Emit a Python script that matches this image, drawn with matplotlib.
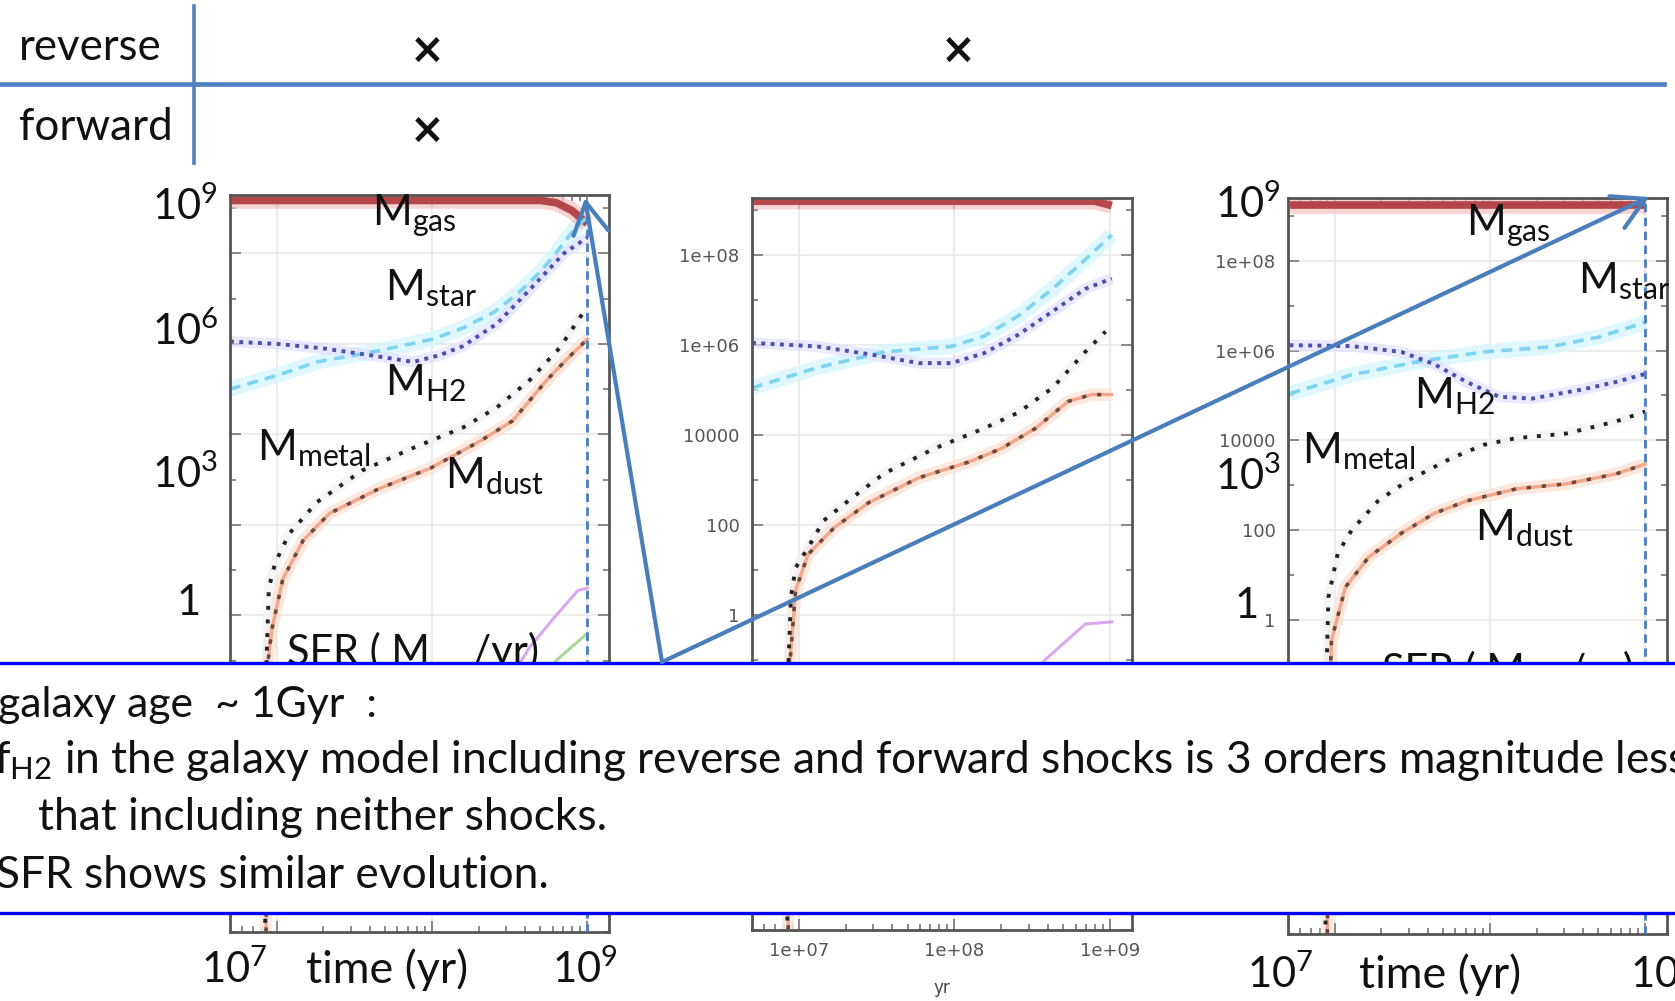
import numpy as np
import matplotlib
matplotlib.use("Agg")
import matplotlib.pyplot as plt
from matplotlib.patches import Rectangle, FancyArrowPatch
from matplotlib.lines import Line2D
from matplotlib.ticker import FixedLocator, LogLocator, FuncFormatter, NullFormatter

# ---------------- data: log10(time/yr), log10(mass/Msun) ----------------
# Panel 1 (no shocks)
p1_gas_logt = [6.70, 8.70, 8.80, 8.90, 9.00]
p1_gas_logm = [9.17, 9.17, 9.12, 8.95, 8.66]
p1_star_logt = [6.70, 7.00, 7.26, 7.66, 8.00, 8.20, 8.40, 8.55, 8.70, 8.82, 8.92, 9.00]
p1_star_logm = [5.00, 5.30, 5.60, 5.85, 6.10, 6.35, 6.70, 7.10, 7.60, 8.10, 8.55, 8.80]
p1_h2_logt = [6.70, 7.00, 7.30, 7.60, 7.88, 8.05, 8.20, 8.42, 8.63, 8.85, 9.00]
p1_h2_logm = [6.05, 6.00, 5.90, 5.75, 5.60, 5.75, 5.95, 6.45, 7.20, 8.00, 8.35]
p1_metal_logt = [6.925, 6.935, 6.95, 6.99, 7.08, 7.26, 7.55, 7.88, 8.20, 8.42, 8.63, 8.82, 8.97]
p1_metal_logm = [-8.0, -1.0, 0.60, 1.15, 1.80, 2.50, 3.20, 3.70, 4.15, 4.60, 5.20, 5.90, 6.67]
p1_dust_logt = [6.93, 6.945, 6.97, 7.04, 7.17, 7.34, 7.66, 7.99, 8.31, 8.52, 8.74, 8.88, 9.00]
p1_dust_logm = [-8.0, -1.0, -0.30, 0.80, 1.65, 2.25, 2.80, 3.25, 3.85, 4.30, 5.20, 5.70, 6.10]
p1_sfr_logt = [8.40, 8.63, 8.80, 8.94, 9.00]
p1_sfr_logm = [-2.0, -0.7, 0.0, 0.55, 0.60]
p1_sfr2_logt = [8.60, 8.80, 9.00]
p1_sfr2_logm = [-2.0, -1.0, -0.40]

# Panel 2 (reverse shock)
p2_gas_logt = [6.70, 8.90, 9.01]
p2_gas_logm = [9.20, 9.20, 9.10]
p2_star_logt = [6.70, 7.12, 7.55, 7.98, 8.19, 8.41, 8.63, 8.84, 9.01]
p2_star_logm = [5.05, 5.50, 5.85, 5.97, 6.20, 6.65, 7.25, 7.90, 8.45]
p2_h2_logt = [6.70, 7.12, 7.45, 7.77, 7.98, 8.19, 8.41, 8.63, 8.84, 9.01]
p2_h2_logm = [6.05, 5.97, 5.80, 5.60, 5.60, 5.82, 6.23, 6.75, 7.25, 7.48]
p2_metal_logt = [6.925, 6.935, 6.95, 6.98, 7.06, 7.16, 7.34, 7.55, 7.87, 8.19, 8.41, 8.63, 8.84, 8.97]
p2_metal_logm = [-8.0, -1.0, 0.40, 1.05, 1.50, 2.10, 2.60, 3.15, 3.70, 4.15, 4.50, 5.05, 5.85, 6.30]
p2_dust_logt = [6.93, 6.945, 6.98, 7.06, 7.23, 7.45, 7.77, 8.09, 8.30, 8.52, 8.73, 8.88, 9.01]
p2_dust_logm = [-8.0, -1.0, 0.55, 1.35, 1.95, 2.50, 3.05, 3.40, 3.70, 4.15, 4.75, 4.90, 4.90]
p2_sfr_logt = [8.30, 8.58, 8.84, 9.01]
p2_sfr_logm = [-2.5, -1.0, -0.2, -0.15]

# Panel 3 (reverse + forward shocks)
p3_gas_logt = [6.71, 9.00]
p3_gas_logm = [9.25, 9.25]
p3_star_logt = [6.71, 7.11, 7.53, 7.96, 8.38, 8.70, 9.00]
p3_star_logm = [5.04, 5.46, 5.75, 5.97, 6.08, 6.30, 6.63]
p3_h2_logt = [6.71, 7.11, 7.43, 7.64, 7.85, 8.06, 8.27, 8.59, 8.81, 9.00]
p3_h2_logm = [6.12, 6.10, 5.97, 5.70, 5.30, 4.97, 4.93, 5.13, 5.30, 5.48]
p3_metal_logt = [6.94, 6.95, 6.96, 7.02, 7.11, 7.28, 7.47, 7.75, 7.96, 8.17, 8.49, 8.81, 9.00]
p3_metal_logm = [-8.0, -0.9, 0.50, 1.48, 2.00, 2.65, 3.10, 3.60, 3.90, 4.05, 4.15, 4.42, 4.64]
p3_dust_logt = [6.95, 6.97, 6.98, 7.07, 7.22, 7.43, 7.64, 7.85, 8.17, 8.49, 8.81, 9.00]
p3_dust_logm = [-8.0, -1.5, -0.45, 0.73, 1.40, 1.93, 2.37, 2.65, 2.92, 3.03, 3.25, 3.47]

table_rows = ["reverse", "forward"]
text_lines = ["galaxy age  ~ 1Gyr  :",
              "f$_{H2}$ in the galaxy model including reverse and forward shocks is 3 orders magnitude less",
              "that including neither shocks.",
              "SFR shows similar evolution."]

# ---------------- figure ----------------
W, H = 1675, 1001
plt.rcParams['font.family'] = ['Lato', 'DejaVu Sans']
plt.rcParams['mathtext.default'] = 'regular'
fig = plt.figure(figsize=(W / 100, H / 100), dpi=100)
fig.patch.set_facecolor('white')
renderer = fig.canvas.get_renderer()


def fx(x):
    return x / W


def fy(y):
    return 1 - y / H


def make_axes(l, r, t, b, ytop):
    ax = fig.add_axes([fx(l), fy(b), (r - l) / W, (b - t) / H])
    ax.set_xscale('log')
    ax.set_yscale('log')
    ax.set_xlim(10 ** 6.70, 10 ** 9.14)
    ax.set_ylim(1e-7, 10 ** ytop)
    ax.yaxis.set_major_locator(FixedLocator([10.0 ** k for k in range(-6, 10, 2)]))
    ax.yaxis.set_minor_locator(FixedLocator([10.0 ** k for k in range(-7, 10, 2)]))
    ax.yaxis.set_minor_formatter(NullFormatter())
    ax.xaxis.set_major_locator(FixedLocator([1e7, 1e8, 1e9]))
    ax.xaxis.set_minor_locator(LogLocator(base=10, subs=np.arange(2, 10), numticks=100))
    ax.xaxis.set_minor_formatter(NullFormatter())
    fmt = FuncFormatter(lambda v, p: '%g' % v)
    ax.xaxis.set_major_formatter(fmt)
    ax.yaxis.set_major_formatter(fmt)
    ax.grid(True, which='major', color='#ececec', lw=1.5)
    ax.set_axisbelow(True)
    ax.tick_params(which='both', direction='in', top=True, right=True, color='#888888',
                   width=1.4, labelsize=13, labelcolor='#555555', labelfontfamily='DejaVu Sans', pad=9)
    ax.tick_params(which='major', length=8)
    ax.tick_params(which='minor', length=4)
    for s in ax.spines.values():
        s.set_color('#555555')
        s.set_linewidth(2)
    return ax


def lg(a):
    return 10.0 ** np.asarray(a, dtype=float)


def draw_series(ax, gas, star, h2, metal, dust, sfrs):
    # halos
    ax.plot(lg(star[0]), lg(star[1]), color='#d2f6ff', lw=11, alpha=0.7, solid_capstyle='butt')
    ax.plot(lg(h2[0]), lg(h2[1]), color='#e2e0ff', lw=8, alpha=0.7, solid_capstyle='butt')
    ax.plot(lg(dust[0]), lg(dust[1]), color='#fde3d6', lw=9, alpha=0.8, solid_capstyle='butt')
    ax.plot(lg(metal[0]), lg(metal[1]), color='#f0f0f0', lw=7, alpha=0.6, solid_capstyle='butt')
    ax.plot(lg(gas[0]), lg(gas[1]), color='#f3c3c3', lw=12, alpha=0.7, solid_capstyle='butt')
    # main lines
    ax.plot(lg(gas[0]), lg(gas[1]), color='#b5474b', lw=5.5, solid_capstyle='butt')
    ax.plot(lg(star[0]), lg(star[1]), color='#7fd3ef', lw=2.6, ls=(0, (3, 2)))
    ax.plot(lg(h2[0]), lg(h2[1]), color='#4d50a8', lw=2.8, ls=(0, (1, 1.4)))
    ax.plot(lg(dust[0]), lg(dust[1]), color='#f2a68b', lw=2.4)
    ax.plot(lg(dust[0]), lg(dust[1]), color='#6b4a3a', lw=2.6, ls=(0, (1.2, 3)))
    ax.plot(lg(metal[0]), lg(metal[1]), color='#222222', lw=2.8, ls=(0, (1, 2.5)))
    for (tt, mm, c) in sfrs:
        ax.plot(lg(tt), lg(mm), color=c, lw=2.2)


ax1 = make_axes(230, 609, 195, 932, 9.29)
ax2 = make_axes(752, 1132, 198, 930, 9.27)
ax3 = make_axes(1288, 1667, 198, 934, 9.40)
ax1.tick_params(labelleft=False, labelbottom=False)
ax3.tick_params(labelbottom=False)

draw_series(ax1, (p1_gas_logt, p1_gas_logm), (p1_star_logt, p1_star_logm), (p1_h2_logt, p1_h2_logm),
            (p1_metal_logt, p1_metal_logm), (p1_dust_logt, p1_dust_logm),
            [(p1_sfr_logt, p1_sfr_logm, '#d9a8f0'), (p1_sfr2_logt, p1_sfr2_logm, '#a8d898')])
draw_series(ax2, (p2_gas_logt, p2_gas_logm), (p2_star_logt, p2_star_logm), (p2_h2_logt, p2_h2_logm),
            (p2_metal_logt, p2_metal_logm), (p2_dust_logt, p2_dust_logm),
            [(p2_sfr_logt, p2_sfr_logm, '#d9a8f0')])
draw_series(ax3, (p3_gas_logt, p3_gas_logm), (p3_star_logt, p3_star_logm), (p3_h2_logt, p3_h2_logm),
            (p3_metal_logt, p3_metal_logm), (p3_dust_logt, p3_dust_logm), [])

for ax in (ax1, ax3):
    ax.axvline(1e9, color='#4a7cc4', lw=2, ls=(0, (3, 2)), zorder=5)

fig.text(fx(942), fy(993), 'yr', ha='center', va='baseline', fontsize=12, color='#444444',
         family='DejaVu Sans')

# ---------------- slide overlay texts ----------------
BLACK = '#111111'


def stext(x, y, s, size, **kw):
    return fig.text(fx(x), fy(y), s, ha=kw.pop('ha', 'left'), va=kw.pop('va', 'baseline'),
                    fontsize=size, color=kw.pop('color', BLACK), **kw)


def fit(t, width):
    w = t.get_window_extent(renderer).width
    t.set_fontsize(t.get_fontsize() * width / w)
    return t.get_fontsize()


LBL = 31
# panel 1 series labels
stext(372, 225, 'M$_{gas}$', LBL)
stext(385, 300, 'M$_{star}$', LBL)
stext(385, 395, 'M$_{H2}$', LBL)
stext(257, 460, 'M$_{metal}$', LBL)
stext(445, 488, 'M$_{dust}$', LBL)
t_sfr1 = stext(287, 665, 'SFR ( M    /yr)', LBL)
fit(t_sfr1, 252)
# panel 3 series labels
stext(1466, 235, 'M$_{gas}$', LBL)
stext(1578, 293, 'M$_{star}$', LBL)
stext(1414, 408, 'M$_{H2}$', LBL)
stext(1302, 463, 'M$_{metal}$', LBL)
stext(1475, 540, 'M$_{dust}$', LBL)
t_sfr3 = stext(1382, 684, 'SFR ( M    /yr)', LBL)
fit(t_sfr3, 252)

AX = 30
stext(152, 220, '10$^{9}$', AX)
stext(152, 345, '10$^{6}$', AX)
stext(152, 488, '10$^{3}$', AX)
stext(177, 615, '1', AX)
stext(1215, 218, '10$^{9}$', AX)
stext(1215, 490, '10$^{3}$', AX)
stext(1235, 618, '1', AX)
stext(201, 983, '10$^{7}$', AX)
t_time1 = stext(306, 983, 'time (yr)', AX)
fit(t_time1, 162)
stext(552, 983, '10$^{9}$', AX)
stext(1247, 988, '10$^{7}$', AX)
t_time3 = stext(1359, 988, 'time (yr)', AX)
fit(t_time3, 162)
stext(1630, 988, '10$^{9}$', AX)

# ---------------- top table ----------------
TBL_BLUE = '#4f81bd'
fig.add_artist(Line2D([fx(194), fx(194)], [fy(6), fy(163)], color=TBL_BLUE, lw=2.6,
                      transform=fig.transFigure))
fig.add_artist(Line2D([0, fx(1664)], [fy(84), fy(84)], color=TBL_BLUE, lw=3.4,
                      transform=fig.transFigure))
t_rev = stext(19, 60, table_rows[0], 34)
fit(t_rev, 143)
t_fwd = stext(19, 140, table_rows[1], 34)
fit(t_fwd, 154)
for (xx, yy) in [(427, 51), (958, 51), (427, 131)]:
    fig.text(fx(xx), fy(yy), '×', ha='center', va='center', fontsize=30, fontweight='bold',
             color=BLACK, family='DejaVu Sans')

# ---------------- text box ----------------
fig.add_artist(Rectangle((0, fy(913)), 1, (913 - 663) / H, transform=fig.transFigure,
                         facecolor='white', edgecolor='none', zorder=10))
for yy in (663, 913):
    fig.add_artist(Line2D([0, 1], [fy(yy), fy(yy)], color='#0000ff', lw=2.4,
                          transform=fig.transFigure, zorder=11))

t3 = stext(38, 830, text_lines[2], 27, zorder=12)
size = fit(t3, 569)
t1 = stext(-2, 717, text_lines[0], size, zorder=12)
fit(t1, 379)
stext(-6, 773, text_lines[1], size, zorder=12)
stext(-4, 888, text_lines[3], size, zorder=12)

# ---------------- arrows ----------------
ARW = '#4a7ebb'
for tip in [(585, 198), (1649, 197)]:
    fig.add_artist(FancyArrowPatch((fx(662), fy(662)), (fx(tip[0]), fy(tip[1])),
                                   transform=fig.transFigure,
                                   arrowstyle='->,head_length=0.8,head_width=0.45',
                                   mutation_scale=28, lw=3, color=ARW,
                                   shrinkA=0, shrinkB=0, zorder=13))

fig.savefig('out.png', dpi=100, facecolor='white')
